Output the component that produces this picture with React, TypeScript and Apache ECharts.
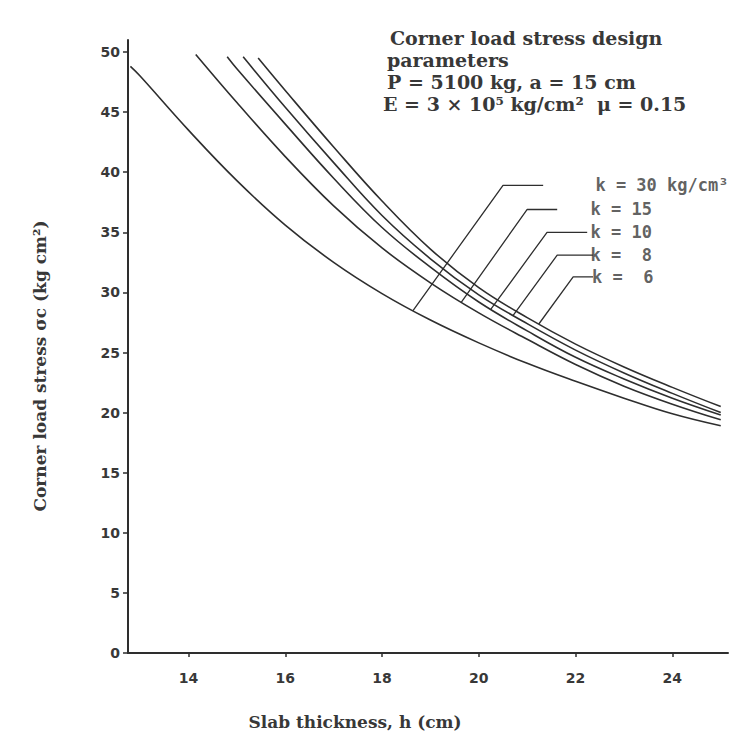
import React, { useEffect, useRef } from 'react';
import * as echarts from 'echarts';

// Axis ticks
const X_TICKS = [14, 16, 18, 20, 22, 24];
const Y_TICKS = [0, 5, 10, 15, 20, 25, 30, 35, 40, 45, 50];

// Curves: slab thickness h (cm) vs corner load stress (kg/cm²)
const xK30 = [12.8, 13, 14, 15, 16, 17, 18, 19, 20, 21, 22, 23, 24, 25];
const yK30 = [48.8, 48.0, 43.5, 39.3, 35.6, 32.5, 29.9, 27.7, 25.8, 24.1, 22.6, 21.2, 19.9, 18.9];

const xK15 = [14.15, 15, 16, 17, 18, 19, 20, 21, 22, 23, 24, 25];
const yK15 = [49.8, 45.8, 41.3, 37.2, 33.7, 30.8, 28.3, 26.1, 24.0, 22.2, 20.7, 19.4];

const xK10 = [14.8, 15, 16, 17, 18, 19, 20, 21, 22, 23, 24, 25];
const yK10 = [49.6, 48.6, 44.0, 39.5, 35.4, 32.1, 29.2, 26.8, 24.6, 22.8, 21.2, 19.8];

const xK8 = [15.13, 16, 17, 18, 19, 20, 21, 22, 23, 24, 25];
const yK8 = [49.6, 45.4, 40.8, 36.4, 32.8, 29.8, 27.4, 25.2, 23.3, 21.6, 20.0];

const xK6 = [15.44, 16, 17, 18, 19, 20, 21, 22, 23, 24, 25];
const yK6 = [49.5, 46.8, 42.1, 37.6, 33.6, 30.4, 27.9, 25.7, 23.8, 22.1, 20.5];

// Leader annotations (data coordinates)
const LEADER_LABELS = ['k = 30 kg/cm³', 'k = 15', 'k = 10', 'k =  8', 'k =  6'];
const LEADER_Y = [38.9, 36.9, 35.0, 33.1, 31.3];
const LEADER_END_X = [21.33, 21.62, 22.24, 22.36, 22.36];
const LEADER_ELBOW_X = [20.5, 21.0, 21.41, 21.62, 21.95];
const LEADER_TARGET_X = [18.64, 19.64, 20.25, 20.71, 21.24];
const LABEL_X = [22.4, 22.3, 22.3, 22.3, 22.33];

const HEADER_LINES = [
  'Corner load stress design',
  'parameters',
  'P = 5100 kg, a = 15 cm',
  'E = 3 × 10⁵ kg/cm²  μ = 0.15',
];

const CURVES = [
  { xs: xK30, ys: yK30 },
  { xs: xK15, ys: yK15 },
  { xs: xK10, ys: yK10 },
  { xs: xK8, ys: yK8 },
  { xs: xK6, ys: yK6 },
];

function interp(xs: number[], ys: number[], x: number): number {
  for (let i = 0; i < xs.length - 1; i++) {
    if (x >= xs[i] && x <= xs[i + 1]) {
      const t = (x - xs[i]) / (xs[i + 1] - xs[i]);
      return ys[i] + t * (ys[i + 1] - ys[i]);
    }
  }
  return ys[ys.length - 1];
}

const INK = '#2e2e2e';
const TEXT = '#383838';

export default function App() {
  const ref = useRef<HTMLDivElement>(null);

  useEffect(() => {
    if (!ref.current) return;
    const chart = echarts.init(ref.current, undefined, { renderer: 'svg' });

    const curveSeries = CURVES.map((c, i) => ({
      type: 'line',
      name: 'curve' + i,
      data: c.xs.map((x, j) => [x, c.ys[j]]),
      smooth: 0.4,
      showSymbol: false,
      symbol: 'none',
      lineStyle: { color: INK, width: 1.6 },
      z: 3,
    }));

    const leaderSeries = CURVES.map((c, i) => {
      const tx = LEADER_TARGET_X[i];
      const ty = interp(c.xs, c.ys, tx);
      return {
        type: 'line',
        name: 'leader' + i,
        data: [
          [LEADER_END_X[i], LEADER_Y[i]],
          [LEADER_ELBOW_X[i], LEADER_Y[i]],
          [tx, ty],
        ],
        smooth: false,
        showSymbol: false,
        symbol: 'none',
        lineStyle: { color: INK, width: 1.3 },
        z: 4,
      };
    });

    const labelSeries = {
      type: 'scatter',
      name: 'labels',
      symbolSize: 1,
      itemStyle: { color: 'rgba(0,0,0,0)' },
      data: LEADER_LABELS.map((t, i) => ({
        value: [LABEL_X[i], LEADER_Y[i]],
        label: {
          show: true,
          position: 'right',
          distance: 0,
          formatter: t,
          fontFamily: 'DejaVu Sans Mono',
          fontWeight: 'bold',
          fontSize: 17,
          color: TEXT,
        },
      })),
      clip: false,
      z: 5,
    };

    const option = {
      animation: false,
      backgroundColor: '#ffffff',
      grid: { left: 128, right: 4, top: 40, bottom: 91 },
      xAxis: {
        type: 'value',
        min: 12.75,
        max: 25.15,
        splitLine: { show: false },
        axisLine: { show: true, onZero: false, lineStyle: { color: INK, width: 2 } },
        axisTick: { show: true, customValues: X_TICKS, length: 4, lineStyle: { color: INK, width: 1.5 } },
        axisLabel: {
          customValues: X_TICKS,
          margin: 18,
          fontFamily: 'DejaVu Sans',
          fontWeight: 'bold',
          fontSize: 14,
          color: TEXT,
        },
      },
      yAxis: {
        type: 'value',
        min: 0,
        max: 51,
        splitLine: { show: false },
        axisLine: { show: true, onZero: false, lineStyle: { color: INK, width: 2 } },
        axisTick: { show: true, customValues: Y_TICKS, length: 5, lineStyle: { color: INK, width: 1.5 } },
        axisLabel: {
          customValues: Y_TICKS,
          margin: 8,
          fontFamily: 'DejaVu Sans',
          fontWeight: 'bold',
          fontSize: 14,
          color: TEXT,
        },
      },
      graphic: [
        ...HEADER_LINES.map((t, i) => ({
          type: 'text',
          x: [390, 387, 387, 383][i],
          y: [38, 60, 82, 104][i],
          style: {
            text: t,
            fontFamily: 'DejaVu Serif',
            fontWeight: 'bold',
            fontSize: 19,
            fill: TEXT,
            align: 'left',
            verticalAlign: 'middle',
          },
        })),
        {
          type: 'text',
          x: 40,
          y: 366,
          rotation: Math.PI / 2,
          style: {
            text: 'Corner load stress σc (kg cm²)',
            fontFamily: 'DejaVu Serif',
            fontWeight: 'bold',
            fontSize: 17,
            fill: TEXT,
            align: 'center',
            verticalAlign: 'middle',
          },
        },
        {
          type: 'text',
          x: 355,
          y: 722,
          style: {
            text: 'Slab thickness, h (cm)',
            fontFamily: 'DejaVu Serif',
            fontWeight: 'bold',
            fontSize: 17,
            fill: TEXT,
            align: 'center',
            verticalAlign: 'middle',
          },
        },
      ],
      series: [...curveSeries, ...leaderSeries, labelSeries],
    };

    chart.setOption(option as any);
    return () => chart.dispose();
  }, []);

  return (
    <div
      ref={ref}
      style={{ position: 'fixed', left: 0, top: 0, width: 732, height: 744, background: '#fff' }}
    />
  );
}
